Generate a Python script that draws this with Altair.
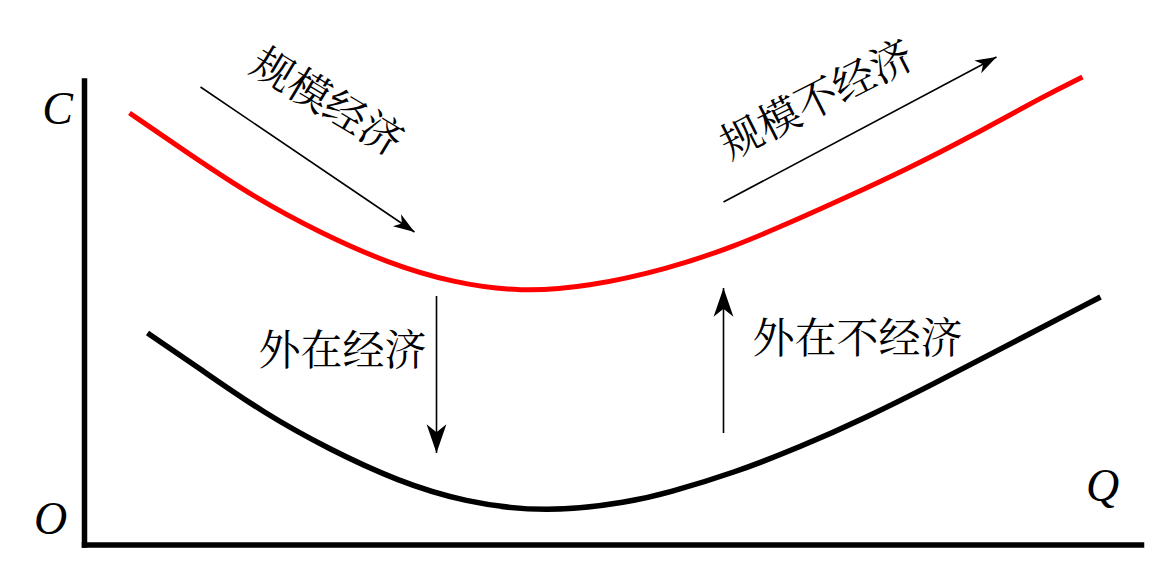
import altair as alt
import pandas as pd

# ---- data (Q = output, C = cost) ----
red_q = [4.5, 10.3, 16.9, 23.6, 30.3, 36.9, 43.6, 50.3, 58.3, 64.9, 71.6, 75.6, 82.3, 88.9, 95.6, 99.8]
red_c = [43.2, 39.2, 34.8, 31.2, 28.2, 26.2, 25.3, 25.8, 27.6, 29.8, 32.7, 34.5, 37.6, 41.0, 44.7, 46.8]

black_q = [6.3, 11.3, 17.9, 24.6, 31.3, 37.9, 46.2, 54.6, 58.3, 64.9, 71.6, 78.3, 84.9, 91.6, 101.6]
black_c = [21.2, 17.8, 13.2, 9.5, 6.4, 4.3, 3.2, 4.3, 5.2, 7.2, 9.8, 12.8, 16.1, 19.6, 24.8]

# arrows: start (q, c) -> tip (q2, c2)
arrow_q = [11.6, 63.9, 35.2, 63.9]
arrow_c = [45.8, 34.3, 24.9, 11.2]
arrow_q2 = [33.0, 91.2, 35.2, 63.9]
arrow_c2 = [31.3, 48.8, 9.2, 25.7]
arrow_dir = [124, 62, 180, 0]  # heading in degrees, clockwise from up
arrow_size = [700, 700, 1300, 1300]

# Chinese labels
label_text = ["规模经济", "规模不经济", "外在经济", "外在不经济"]
label_q = [24.2, 73.3, 25.8, 77.3]
label_c = [44.2, 44.4, 19.3, 20.5]
label_angle = [31, 333, 0, 0]

# axis letters
letter_text = ["C", "O", "Q"]
letter_q = [-2.7, -3.4, 101.8]
letter_c = [43.5, 2.5, 5.8]

# axis lines
axis_q = [0.0, 0.0]
axis_c = [0.0, 0.0]
axis_q2 = [0.0, 105.7]
axis_c2 = [46.4, 0.0]

XS = alt.Scale(domain=[-7.65, 107.15], nice=False, zero=False)
YS = alt.Scale(domain=[-2.6, 53.7], nice=False, zero=False)

red = pd.DataFrame({"q": red_q, "c": red_c})
black = pd.DataFrame({"q": black_q, "c": black_c})
arrows = pd.DataFrame({"q": arrow_q, "c": arrow_c, "q2": arrow_q2, "c2": arrow_c2,
                       "dir": arrow_dir, "size": arrow_size})
labels = pd.DataFrame({"t": label_text, "q": label_q, "c": label_c, "a": label_angle})
letters = pd.DataFrame({"t": letter_text, "q": letter_q, "c": letter_c})
axes = pd.DataFrame({"q": axis_q, "c": axis_c, "q2": axis_q2, "c2": axis_c2})

x = alt.X("q:Q", scale=XS, axis=None)
y = alt.Y("c:Q", scale=YS, axis=None)

axis_layer = alt.Chart(axes).mark_rule(color="black", strokeWidth=5.5, strokeCap="square").encode(
    x=x, y=y, x2="q2:Q", y2="c2:Q")

red_layer = alt.Chart(red).mark_line(color="#ff0000", strokeWidth=5, interpolate="basis").encode(x=x, y=y)
black_layer = alt.Chart(black).mark_line(color="black", strokeWidth=5.5, interpolate="basis").encode(x=x, y=y)

arrow_lines = alt.Chart(arrows).mark_rule(color="black", strokeWidth=1.6).encode(
    x=x, y=y, x2="q2:Q", y2="c2:Q")

head_shape = "M0,0 L0.55,1.6 L0,1.15 L-0.55,1.6 Z"
arrow_heads = alt.Chart(arrows).mark_point(shape=head_shape, filled=True, color="black", opacity=1).encode(
    x=alt.X("q2:Q", scale=XS, axis=None),
    y=alt.Y("c2:Q", scale=YS, axis=None),
    angle=alt.Angle("dir:Q", scale=None),
    size=alt.Size("size:Q", scale=None, legend=None),
)

label_layer = alt.Chart(labels).mark_text(
    font="Noto Serif CJK SC, Noto Sans CJK SC", fontSize=42, color="black",
    align="center", baseline="middle").encode(
    x=x, y=y, text="t:N", angle=alt.Angle("a:Q", scale=None))

letter_layer = alt.Chart(letters).mark_text(
    font="Liberation Serif", fontStyle="italic", fontSize=46, color="black",
    align="center", baseline="middle").encode(x=x, y=y, text="t:N")

chart = alt.layer(
    axis_layer, red_layer, black_layer, arrow_lines, arrow_heads, label_layer, letter_layer
).properties(
    width=1148, height=563, padding=0, autosize=alt.AutoSizeParams(type="none"),
    background="white",
).configure_view(stroke=None)

chart.save("out.html", embed_options={"renderer": "svg", "actions": False})
